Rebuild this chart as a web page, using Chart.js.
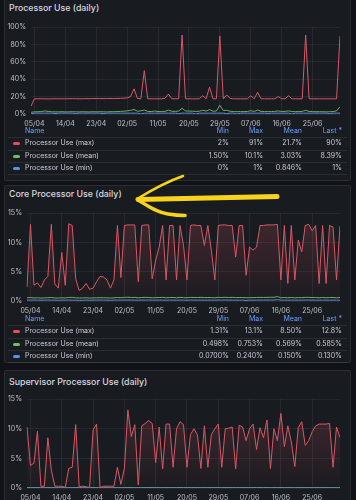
<!DOCTYPE html>
<html>
<head>
<meta charset="utf-8">
<script src="https://cdn.jsdelivr.net/npm/chart.js@4.4.1/dist/chart.umd.min.js"></script>
<style>
  body { margin: 0; width: 356px; height: 500px; overflow: hidden; position: relative;
         background: #111217; font-family: Inter, "Noto Sans", sans-serif; color: #ccccdc; }
  .panel { position: absolute; left: 4px; width: 347px; background: #181b1f;
           border: 1px solid rgba(204,204,220,0.10); border-radius: 2px; box-sizing: border-box; }
  .title { position: absolute; left: 9px; font-size: 8.8px; font-weight: 500; line-height: 10px; color: #d8d9e0; }
  canvas { position: absolute; }
  .lg { position: absolute; left: 0; width: 356px; font-size: 7px; }
  .lrow { position: relative; height: 12.5px; line-height: 12.5px; }
  .lrow.hdr { height: 12px; line-height: 12px; color: #6e9fff; }
  .lrow.data::after { content: ""; position: absolute; left: 8px; right: 9px; top: 0;
                      border-top: 1px solid rgba(204,204,220,0.10); }
  .lrow.last::before { content: ""; position: absolute; left: 8px; right: 9px; bottom: 0;
                       border-top: 1px solid rgba(204,204,220,0.10); }
  .lrow span { position: absolute; white-space: nowrap; }
  .lrow i { position: absolute; left: 13px; top: 5px; width: 7px; height: 3px; border-radius: 1.5px; }
  .nm { left: 25px; }
  .c1 { right: 127px; } .c2 { right: 93px; } .c3 { right: 54px; } .c4 { right: 14px; }
  svg { position: absolute; left: 0; top: 0; }
</style>
</head>
<body>
<div class="panel" style="top:-6px;height:187px"></div>
<div class="panel" style="top:185px;height:178px"></div>
<div class="panel" style="top:370px;height:140px"></div>

<div class="title" style="top:3px">Processor Use (daily)</div>
<div class="title" style="top:189px">Core Processor Use (daily)</div>
<div class="title" style="top:377px">Supervisor Processor Use (daily)</div>

<canvas id="c1" width="335" height="110" style="left:5px;top:18px"></canvas>
<canvas id="c2" width="335" height="111" style="left:5px;top:204px"></canvas>
<canvas id="c3" width="335" height="112" style="left:5px;top:390px"></canvas>

<div id="lg1" class="lg" style="top:125px"></div>
<div id="lg2" class="lg" style="top:313px"></div>

<svg width="356" height="500">
  <g fill="none" stroke="#f9d21c" stroke-linecap="round" stroke-linejoin="round">
    <path d="M277 196.5 C240 197, 190 198.5, 138 199.5" stroke-width="5"/>
    <path d="M137 199 C150 191, 166 182, 183 176" stroke-width="2.5"/>
    <path d="M138 200 C148 206, 156 212, 168 214 C174 215, 180 215.5, 185 215.5" stroke-width="3.5"/>
  </g>
</svg>

<script>
// daily categories, 04/04 .. 03/07
const days = [
  '04/04','05/04','06/04','07/04','08/04','09/04','10/04','11/04','12/04','13/04',
  '14/04','15/04','16/04','17/04','18/04','19/04','20/04','21/04','22/04','23/04',
  '24/04','25/04','26/04','27/04','28/04','29/04','30/04','01/05','02/05','03/05',
  '04/05','05/05','06/05','07/05','08/05','09/05','10/05','11/05','12/05','13/05',
  '14/05','15/05','16/05','17/05','18/05','19/05','20/05','21/05','22/05','23/05',
  '24/05','25/05','26/05','27/05','28/05','29/05','30/05','31/05','01/06','02/06',
  '03/06','04/06','05/06','06/06','07/06','08/06','09/06','10/06','11/06','12/06',
  '13/06','14/06','15/06','16/06','17/06','18/06','19/06','20/06','21/06','22/06',
  '23/06','24/06','25/06','26/06','27/06','28/06','29/06','30/06','01/07','02/07',
  '03/07'
];
const shownDays = ['05/04','14/04','23/04','02/05','11/05','20/05','29/05','07/06','16/06','25/06'];

// Processor Use
const procMax = [
  9, 17.5, 17.5, 17.6, 17.5, 17.4, 17.5, 17.6, 17.5, 17.6,
  17.5, 17.6, 17.7, 17.6, 17.5, 17.6, 17.7, 17.6, 17.8, 17.7,
  17.8, 17.7, 17.8, 17.9, 17.8, 17.9, 18, 18.2, 18.5, 20,
  29, 18, 17.5, 50, 17.5, 17.5, 17.5, 17.5, 17.5, 18,
  23, 17.5, 17.5, 17.5, 91, 17.5, 17.5, 17.5, 17.5, 17.5,
  21, 17.5, 31, 17.5, 17.5, 90, 17.5, 22, 18, 17.5,
  17.5, 17.5, 17.5, 17.5, 21, 17.5, 25, 17.5, 17.5, 17.5,
  17.5, 17.5, 20, 17.5, 17.5, 21, 17.5, 17.5, 17.5, 17.5,
  91, 17.5, 17.5, 17.5, 17.5, 17.5, 17.5, 17.5, 17.5, 17.5,
  90
];
const procMean = [
  2.0, 2.5, 2.6, 2.8, 3.5, 3.0, 2.6, 2.4, 2.5, 2.6,
  2.4, 2.5, 2.6, 2.5, 2.4, 2.6, 2.5, 2.4, 2.6, 2.5,
  2.6, 2.5, 2.4, 2.6, 2.7, 2.8, 3.0, 3.2, 3.6, 4.2,
  5.2, 3.2, 3.6, 4.6, 3.0, 2.8, 3.4, 2.9, 2.8, 3.0,
  4.4, 3.2, 3.0, 3.4, 6.6, 3.6, 3.4, 3.2, 3.0, 3.2,
  4.2, 3.4, 5.0, 3.2, 3.4, 10.1, 4.0, 4.2, 3.2, 2.8,
  2.6, 2.8, 2.7, 2.9, 3.8, 3.0, 4.6, 3.0, 2.8, 2.7,
  2.8, 3.0, 3.6, 2.9, 3.0, 3.6, 2.8, 2.7, 2.9, 3.0,
  4.2, 3.0, 2.8, 2.6, 2.7, 2.6, 2.5, 2.6, 2.8, 3.6,
  8.39
];
const procMin = [
  0, 1, 1, 1, 1, 1, 1, 0.5, 1, 1,
  1, 1, 1, 0.5, 1, 1, 1, 1, 1, 1,
  1, 0.5, 1, 1, 1, 1, 1, 1, 1, 1,
  1, 1, 0, 1, 1, 1, 1, 1, 1, 1,
  1, 1, 1, 0.5, 1, 1, 1, 1, 0, 1,
  1, 1, 1, 1, 1, 1, 1, 0.5, 1, 1,
  0, 1, 1, 1, 1, 1, 1, 1, 1, 0.5,
  1, 1, 1, 1, 1, 1, 0, 1, 1, 1,
  1, 1, 1, 1, 1, 1, 1, 0.5, 1, 1,
  1
];

// Core Processor Use
const coreMax = [
  2.4, 13.1, 2.7, 3.1, 2.3, 3.6, 4.2, 13.1, 2.9, 2.2,
  8.3, 2.7, 13.2, 12.9, 3.8, 1.8, 2.2, 3.0, 2.0, 2.2,
  3.3, 4.2, 4.1, 3.6, 2.2, 3.6, 12.9, 4.0, 12.9, 13.0,
  13.0, 13.0, 3.3, 12.9, 13.0, 13.0, 3.8, 7.0, 9.2, 12.9,
  3.6, 12.9, 12.9, 3.6, 12.9, 9.5, 3.6, 12.9, 13.0, 12.9,
  12.9, 9.5, 12.9, 8.7, 3.6, 12.9, 13.0, 13.0, 12.9, 12.9,
  7.5, 12.9, 12.9, 4.4, 9.2, 8.7, 9.2, 12.9, 12.9, 13.0,
  13.0, 13.0, 13.1, 3.6, 12.9, 3.0, 12.9, 3.6, 10.4, 8.4,
  12.9, 13.1, 12.0, 12.9, 3.0, 12.9, 3.0, 12.9, 12.6, 3.6,
  12.8
];
const coreMean = [
  0.55, 0.60, 0.52, 0.55, 0.50, 0.53, 0.56, 0.60, 0.52, 0.50,
  0.54, 0.52, 0.60, 0.62, 0.55, 0.50, 0.52, 0.55, 0.50, 0.52,
  0.54, 0.56, 0.55, 0.53, 0.51, 0.54, 0.60, 0.56, 0.62, 0.64,
  0.60, 0.62, 0.55, 0.60, 0.62, 0.60, 0.55, 0.58, 0.60, 0.62,
  0.55, 0.60, 0.60, 0.55, 0.62, 0.58, 0.55, 0.62, 0.60, 0.60,
  0.62, 0.58, 0.60, 0.58, 0.55, 0.62, 0.60, 0.63, 0.60, 0.62,
  0.57, 0.60, 0.60, 0.55, 0.58, 0.58, 0.60, 0.62, 0.60, 0.62,
  0.64, 0.63, 0.75, 0.55, 0.60, 0.55, 0.60, 0.55, 0.58, 0.57,
  0.62, 0.62, 0.60, 0.60, 0.55, 0.60, 0.55, 0.60, 0.60, 0.55,
  0.585
];
const coreMin = [
  0.15, 0.14, 0.16, 0.15, 0.13, 0.15, 0.16, 0.14, 0.15, 0.12,
  0.14, 0.15, 0.16, 0.15, 0.14, 0.10, 0.12, 0.15, 0.13, 0.14,
  0.15, 0.16, 0.15, 0.14, 0.12, 0.15, 0.16, 0.15, 0.16, 0.17,
  0.16, 0.15, 0.14, 0.16, 0.15, 0.17, 0.14, 0.15, 0.16, 0.15,
  0.14, 0.16, 0.15, 0.14, 0.16, 0.15, 0.13, 0.16, 0.15, 0.15,
  0.16, 0.14, 0.15, 0.15, 0.14, 0.16, 0.15, 0.17, 0.15, 0.16,
  0.14, 0.15, 0.16, 0.07, 0.15, 0.14, 0.15, 0.16, 0.15, 0.16,
  0.17, 0.16, 0.24, 0.14, 0.15, 0.14, 0.15, 0.14, 0.15, 0.15,
  0.16, 0.16, 0.15, 0.15, 0.14, 0.15, 0.14, 0.15, 0.15, 0.14,
  0.13
];

// Supervisor Processor Use
const supMax = [
  10.3, 3.8, 4.2, 9.6, 0.3, 0.3, 8.5, 3.0, 0.3, 0.3,
  0.3, 0.1, 3.3, 3.5, 10.7, 0.2, 0.3, 0.2, 0.1, 9.8,
  10.8, 0.1, 0.3, 0.3, 0.3, 0.3, 3.5, 0.6, 3.3, 13.2,
  8.7, 10.7, 0.5, 10.5, 10.9, 11.4, 10.9, 4.3, 10.3, 3.2,
  10.8, 10.8, 3.5, 10.0, 11.2, 10.7, 3.5, 9.0, 10.0, 9.0,
  3.3, 10.5, 3.5, 9.0, 10.0, 10.8, 3.5, 10.0, 10.1, 10.3,
  3.2, 10.6, 10.3, 8.0, 10.0, 10.8, 6.5, 10.2, 8.5, 11.5,
  3.3, 10.0, 8.0, 12.6, 7.0, 10.5, 7.8, 3.6, 10.2, 11.2,
  7.2, 8.0, 9.5, 10.5, 10.8, 10.8, 10.8, 10.9, 3.5, 10.3,
  8.5
];
const supMean = [
  0.05, 0.04, 0.04, 0.05, 0.02, 0.02, 0.05, 0.03, 0.02, 0.02,
  0.02, 0.01, 0.03, 0.03, 0.05, 0.02, 0.02, 0.02, 0.01, 0.05,
  0.05, 0.01, 0.02, 0.02, 0.02, 0.02, 0.03, 0.02, 0.03, 0.06,
  0.05, 0.05, 0.02, 0.05, 0.05, 0.06, 0.05, 0.04, 0.05, 0.03,
  0.05, 0.05, 0.03, 0.05, 0.05, 0.05, 0.03, 0.05, 0.05, 0.05,
  0.03, 0.05, 0.03, 0.05, 0.05, 0.05, 0.03, 0.05, 0.05, 0.05,
  0.03, 0.05, 0.05, 0.04, 0.05, 0.05, 0.04, 0.05, 0.04, 0.05,
  0.03, 0.05, 0.04, 0.06, 0.04, 0.05, 0.04, 0.03, 0.05, 0.05,
  0.04, 0.04, 0.05, 0.05, 0.05, 0.05, 0.05, 0.05, 0.03, 0.05,
  0.04
];
const supMin = [
  0.01, 0.01, 0.01, 0.01, 0.01, 0.01, 0.01, 0.01, 0.01, 0.01,
  0.01, 0.01, 0.01, 0.01, 0.01, 0.01, 0.01, 0.01, 0.01, 0.01,
  0.01, 0.01, 0.01, 0.01, 0.01, 0.01, 0.01, 0.01, 0.01, 0.01,
  0.01, 0.01, 0.01, 0.01, 0.01, 0.01, 0.01, 0.01, 0.01, 0.01,
  0.01, 0.01, 0.01, 0.01, 0.01, 0.01, 0.01, 0.01, 0.01, 0.01,
  0.01, 0.01, 0.01, 0.01, 0.01, 0.01, 0.01, 0.01, 0.01, 0.01,
  0.01, 0.01, 0.01, 0.01, 0.01, 0.01, 0.01, 0.01, 0.01, 0.01,
  0.01, 0.01, 0.01, 0.01, 0.01, 0.01, 0.01, 0.01, 0.01, 0.01,
  0.01, 0.01, 0.01, 0.01, 0.01, 0.01, 0.01, 0.01, 0.01, 0.01,
  0.01
];

// legend stats (Min, Max, Mean, Last *)
const procStats = [
  ['2%', '91%', '21.7%', '90%'],
  ['1.50%', '10.1%', '3.03%', '8.39%'],
  ['0%', '1%', '0.846%', '1%']
];
const coreStats = [
  ['1.31%', '13.1%', '8.50%', '12.8%'],
  ['0.498%', '0.753%', '0.569%', '0.585%'],
  ['0.0700%', '0.240%', '0.150%', '0.130%']
];
const seriesNames = ['Processor Use (max)', 'Processor Use (mean)', 'Processor Use (min)'];

const RED = '#d95868', GREEN = '#6fae65', BLUE = '#5b8fe0';
const seriesColors = ['#f2495c', '#73bf69', '#5794f2'];
const GRID = 'rgba(204,204,220,0.08)';
const TICK = '#bfc1ca';

// gradient fill under the max line
function redFill(ctx) {
  const area = ctx.chart.chartArea;
  if (!area) return 'rgba(0,0,0,0)';
  const g = ctx.chart.ctx.createLinearGradient(0, area.top, 0, area.bottom);
  g.addColorStop(0, 'rgba(217,88,104,0.22)');
  g.addColorStop(1, 'rgba(217,88,104,0.02)');
  return g;
}

function drawPanel(id, series, yMax, yStep, yWidth, filled) {
  new Chart(document.getElementById(id), {
    type: 'line',
    data: {
      labels: days,
      datasets: [
        { data: series[0], borderColor: RED, borderWidth: 1, order: 0,
          fill: filled ? 'origin' : false, backgroundColor: filled ? redFill : 'transparent' },
        { data: series[1], borderColor: GREEN, borderWidth: 1, order: 2, fill: false },
        { data: series[2], borderColor: BLUE, borderWidth: 1, order: 1, fill: false }
      ]
    },
    options: {
      responsive: false,
      animation: false,
      events: [],
      layout: { padding: { top: 8, right: 0, left: 0, bottom: 0 } },
      elements: { point: { radius: 0 }, line: { tension: 0 } },
      plugins: { legend: { display: false }, tooltip: { enabled: false } },
      scales: {
        x: {
          offset: false,
          grid: { color: GRID, drawTicks: false },
          border: { display: false },
          ticks: {
            color: TICK, font: { family: 'Inter', size: 7 }, padding: 6,
            autoSkip: false, maxRotation: 0,
            callback(v) {
              const l = this.getLabelForValue(v);
              return shownDays.includes(l) ? l : null;
            }
          },
          afterFit(s) { s.height = 14; }
        },
        y: {
          min: 0, max: yMax,
          grid: { color: GRID, drawTicks: false },
          border: { display: false },
          ticks: {
            color: TICK, font: { family: 'Inter', size: 7 }, padding: 5,
            stepSize: yStep, callback: v => v + '%'
          },
          afterFit(s) { s.width = yWidth; }
        }
      }
    }
  });
}

function buildLegend(id, stats) {
  let html = '<div class="lrow hdr"><span class="nm">Name</span><span class="c1">Min</span>' +
             '<span class="c2">Max</span><span class="c3">Mean</span><span class="c4">Last *</span></div>';
  stats.forEach((row, i) => {
    html += '<div class="lrow data' + (i === stats.length - 1 ? ' last' : '') + '">' +
            '<i style="background:' + seriesColors[i] + '"></i>' +
            '<span class="nm">' + seriesNames[i] + '</span>' +
            '<span class="c1">' + row[0] + '</span><span class="c2">' + row[1] + '</span>' +
            '<span class="c3">' + row[2] + '</span><span class="c4">' + row[3] + '</span></div>';
  });
  document.getElementById(id).innerHTML = html;
}

drawPanel('c1', [procMax, procMean, procMin], 100, 20, 26, false);
drawPanel('c2', [coreMax, coreMean, coreMin], 15, 5, 22, true);
drawPanel('c3', [supMax, supMean, supMin], 15, 5, 22, true);
buildLegend('lg1', procStats);
buildLegend('lg2', coreStats);
</script>
</body>
</html>
